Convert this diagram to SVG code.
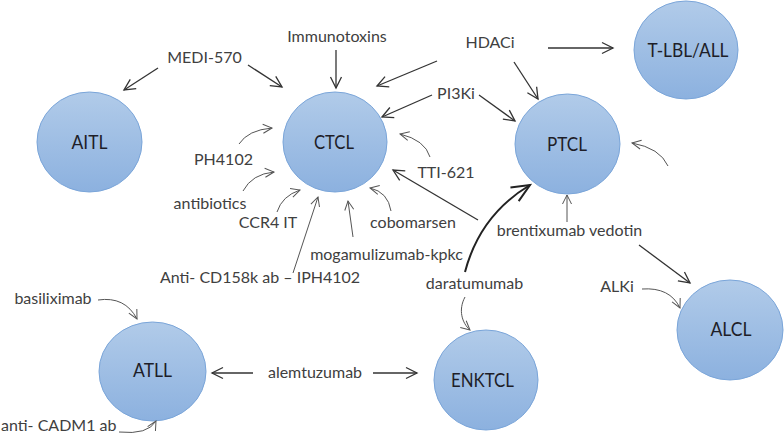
<svg xmlns="http://www.w3.org/2000/svg" width="784" height="435" viewBox="0 0 784 435">
<defs>
<linearGradient id="g" x1="0" y1="0" x2="0" y2="1">
<stop offset="0" stop-color="#b1cbe9"/>
<stop offset="1" stop-color="#8cb1df"/>
</linearGradient>
<marker id="a" markerUnits="userSpaceOnUse" markerWidth="14" markerHeight="14" refX="12" refY="7" orient="auto">
<path d="M1,1.5 L12,7 L1,12.5" fill="none" stroke="#333" stroke-width="1.3"/>
</marker>
<marker id="s" markerUnits="userSpaceOnUse" markerWidth="12" markerHeight="12" refX="10" refY="6" orient="auto">
<path d="M1,1.5 L10,6 L1,10.5" fill="none" stroke="#555" stroke-width="1"/>
</marker>
<marker id="b" markerUnits="userSpaceOnUse" markerWidth="22" markerHeight="22" refX="19" refY="11" orient="auto">
<path d="M1,3 L19,11 L1,19" fill="none" stroke="#222" stroke-width="2"/>
</marker>
</defs>
<style>
.n ellipse{fill:url(#g);stroke:#7aa5d9;stroke-width:1}
.n text{font-family:Lato,"Open Sans",sans-serif;font-size:19px;fill:#1e1e28;text-anchor:middle}
.l{font-family:Lato,"Open Sans",sans-serif;font-size:16px;fill:#404040;text-anchor:middle}
.c path,.c line{fill:none}
.k{stroke:#333;stroke-width:1.3;marker-end:url(#a)}
.t{stroke:#555;stroke-width:1;marker-end:url(#s)}
.h{stroke:#222;stroke-width:2;marker-end:url(#b)}
</style>
<g id="AITL" class="n"><ellipse cx="89.5" cy="142" rx="52.5" ry="50"/><text x="89.5" y="149" textLength="36" lengthAdjust="spacingAndGlyphs">AITL</text></g>
<g id="CTCL" class="n"><ellipse cx="335" cy="142" rx="52" ry="50"/><text x="334" y="149" textLength="40" lengthAdjust="spacingAndGlyphs">CTCL</text></g>
<g id="TLBL" class="n"><ellipse cx="686" cy="50" rx="52" ry="49"/><text x="688" y="57" textLength="81" lengthAdjust="spacingAndGlyphs">T-LBL/ALL</text></g>
<g id="PTCL" class="n"><ellipse cx="567.5" cy="144" rx="52.5" ry="50"/><text x="567" y="151" textLength="40" lengthAdjust="spacingAndGlyphs">PTCL</text></g>
<g id="ATLL" class="n"><ellipse cx="152.5" cy="371.5" rx="53.5" ry="49.5"/><text x="152.5" y="377" textLength="39" lengthAdjust="spacingAndGlyphs">ATLL</text></g>
<g id="ENKTCL" class="n"><ellipse cx="486" cy="380" rx="52" ry="50"/><text x="482.5" y="387" textLength="63" lengthAdjust="spacingAndGlyphs">ENKTCL</text></g>
<g id="ALCL" class="n"><ellipse cx="730" cy="330" rx="53" ry="50"/><text x="731" y="336" textLength="41" lengthAdjust="spacingAndGlyphs">ALCL</text></g>
<g id="labels">
<text class="l" x="337" y="42">Immunotoxins</text>
<text class="l" x="204.5" y="63">MEDI-570</text>
<text class="l" x="490" y="48">HDACi</text>
<text class="l" x="456" y="99">PI3Ki</text>
<text class="l" x="223.5" y="165">PH4102</text>
<text class="l" x="446" y="178">TTI-621</text>
<text class="l" x="210" y="209">antibiotics</text>
<text class="l" x="268" y="228">CCR4 IT</text>
<text class="l" x="413" y="228">cobomarsen</text>
<text class="l" x="569.5" y="236">brentixumab vedotin</text>
<text class="l" x="386.5" y="260">mogamulizumab-kpkc</text>
<text class="l" x="260" y="283">Anti- CD158k ab – IPH4102</text>
<text class="l" x="474.5" y="289">daratumumab</text>
<text class="l" x="617" y="292">ALKi</text>
<text class="l" x="53" y="304">basiliximab</text>
<text class="l" x="315" y="378">alemtuzumab</text>
<text class="l" x="1" y="431" style="text-anchor:start">anti- CADM1 ab</text>
</g>
<g id="connectors" class="c">
<line class="k" x1="158" y1="68" x2="124" y2="90"/>
<line class="k" x1="248" y1="65" x2="282" y2="87"/>
<line class="k" x1="336" y1="50" x2="336" y2="88"/>
<line class="k" x1="437" y1="61" x2="377" y2="86"/>
<line class="k" x1="432" y1="95" x2="382" y2="117"/>
<line class="k" x1="548" y1="48" x2="613" y2="48"/>
<line class="k" x1="514" y1="62" x2="538" y2="99"/>
<line class="k" x1="479" y1="95" x2="515" y2="121"/>
<path class="t" d="M239,144 Q248,130 272,128"/>
<path class="t" d="M243,191 Q252,174 274,172"/>
<path class="t" d="M277,212 Q282,196 300,190"/>
<line class="t" x1="293" y1="273" x2="318" y2="197"/>
<line class="t" x1="353" y1="237" x2="348" y2="201"/>
<path class="t" d="M391,211 Q388,192 370,188"/>
<path class="t" d="M430,157 Q425,140 400,134"/>
<line class="k" x1="478" y1="220" x2="393" y2="170"/>
<path class="h" d="M465,272 Q480,215 530,185"/>
<line class="t" x1="567" y1="222" x2="567" y2="195"/>
<path class="t" d="M668,166 Q660,148 632,143"/>
<line class="k" x1="639" y1="245" x2="690" y2="283"/>
<path class="t" d="M642,289 Q670,287 680,308"/>
<path class="t" d="M465,297 C458,310 462,323 470,330"/>
<line class="k" x1="253" y1="373" x2="212" y2="373"/>
<line class="k" x1="373" y1="373" x2="417" y2="373"/>
<path class="t" d="M98,300 Q125,296 137,319"/>
<path class="t" d="M119,432 Q148,435 156,421"/>
</g>
</svg>
